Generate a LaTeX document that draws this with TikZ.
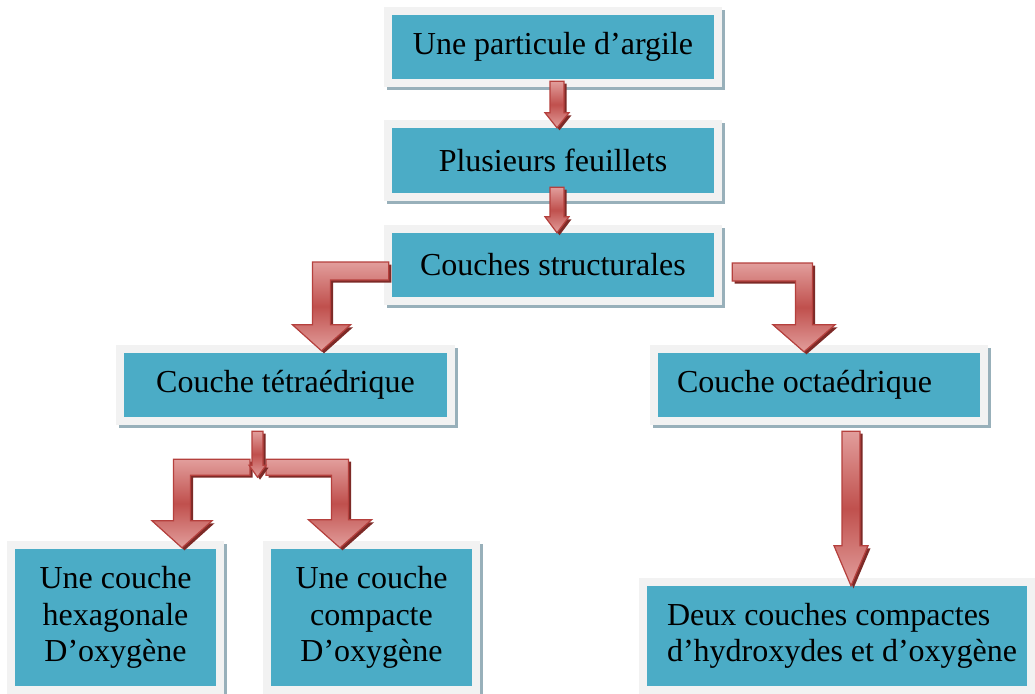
\documentclass[tikz,border=0pt]{standalone}
\usepackage{fontspec}
\setmainfont{Liberation Serif}
\usetikzlibrary{calc,shadows}

\definecolor{boxteal}{HTML}{4BACC6}
\definecolor{boxframe}{HTML}{F2F2F2}
\definecolor{boxshade}{HTML}{98B0BA}
\definecolor{arrline}{HTML}{B5403D}
\definecolor{arrlight}{HTML}{E29E9C}
\definecolor{arrdark}{HTML}{C0504D}
\definecolor{arrshade}{HTML}{7D2A27}

% straight block arrow: top centre, tip, shaft half width, head half width, head length
\newcommand\blockdown[5]{%
  \path[blockarrow] let \p1=#1, \p2=#2 in
    (\x1-#3,\y1) -- (\x1-#3,\y2+#5) -- (\x1-#4,\y2+#5) -- (\x1,\y2)
    -- (\x1+#4,\y2+#5) -- (\x1+#3,\y2+#5) -- (\x1+#3,\y1) -- cycle;}
% bent block arrow: arm start, tip, arm half width, shaft half width, head half width, head length
\newcommand\blockbent[6]{%
  \path[blockarrow] let \p1=#1, \p2=#2 in
    (\x1,\y1+#3) -- ({\x2-(#4)},\y1+#3) -- ({\x2-(#4)},\y2+#6) -- ({\x2-(#5)},\y2+#6) -- (\x2,\y2)
    -- ({\x2+(#5)},\y2+#6) -- ({\x2+(#4)},\y2+#6) -- ({\x2+(#4)},\y1-#3) -- (\x1,\y1-#3) -- cycle;}

\begin{document}
\begin{tikzpicture}[x=1pt,y=-1pt,
    boxnode/.style={fill=boxteal, minimum width=322pt, minimum height=64pt, inner sep=0pt,
      font=\fontsize{32}{36.5}\selectfont,
      preaction={draw=boxshade, line width=16pt, transform canvas={shift={(3pt,-3pt)}}},
      preaction={draw=boxframe, line width=16pt}},
    blockarrow/.style={draw=arrline, line width=1.2pt,
      top color=arrlight, bottom color=arrlight, middle color=arrdark,
      drop shadow={shadow xshift=2.5pt, shadow yshift=-2.5pt, fill=arrshade, opacity=1}}]
  \useasboundingbox[fill=white] (0,0) rectangle (1035,693);

  \node[boxnode] (part) at (553,47) {Une particule d’argile};
  \node[boxnode, minimum height=65pt] (feuil) at (553,160.5) {Plusieurs feuillets};
  \node[boxnode] (couch) at (553,265) {Couches structurales};
  \node[boxnode, minimum width=323pt] (tetra) at (285.5,385) {Couche tétraédrique};
  \node[boxnode, text width=284pt, inner xsep=19pt, align=flush left] (octa) at (819,385) {Couche octaédrique};
  \node[boxnode, minimum width=201pt, minimum height=137pt, align=center] (hexa) at (115.5,617.5)
    {Une couche\\hexagonale\\D’oxygène};
  \node[boxnode, minimum width=201pt, minimum height=137pt, align=center] (compa) at (371.5,617.5)
    {Une couche\\compacte\\D’oxygène};
  \node[boxnode, minimum width=380pt, minimum height=100pt, text width=370pt, inner xsep=5pt, align=flush left]
    (deux) at (837,636) {\hspace*{15pt}Deux couches compactes\\\hspace*{15pt}d’hydroxydes et d’oxygène};

  \blockdown{([xshift=4pt,yshift=-2pt]part.south)}{(feuil.north)}{7pt}{12pt}{15pt}
  \blockdown{([xshift=4pt,yshift=6pt]feuil.south)}{(couch.north)}{7pt}{12pt}{16pt}
  \blockbent{([xshift=-3pt,yshift=-6pt]couch.west)}{([xshift=36pt,yshift=2pt]tetra.north)}{9pt}{9pt}{29pt}{26pt}
  \blockbent{([xshift=18pt,yshift=-7pt]couch.east)}{([xshift=-15pt,yshift=1pt]octa.north)}{9pt}{-8.5pt}{-31pt}{27pt}

  \coordinate (split) at ([xshift=-28pt,yshift=-60pt]tetra.south);
  \blockbent{([xshift=-7.5pt,yshift=10pt]split)}{([xshift=66.5pt,yshift=1pt]hexa.north)}{8pt}{8.5pt}{30pt}{27pt}
  \blockbent{([xshift=8.5pt,yshift=10pt]split)}{([xshift=-31.5pt,yshift=1pt]compa.north)}{8pt}{-8.5pt}{-31.5pt}{28pt}
  \blockdown{([xshift=-28pt,yshift=-14pt]tetra.south)}{(split)}{5.5pt}{8.5pt}{12pt}
  \blockdown{([xshift=32pt,yshift=-14pt]octa.south)}{(deux.north)}{9pt}{17pt}{40pt}
\end{tikzpicture}
\end{document}
